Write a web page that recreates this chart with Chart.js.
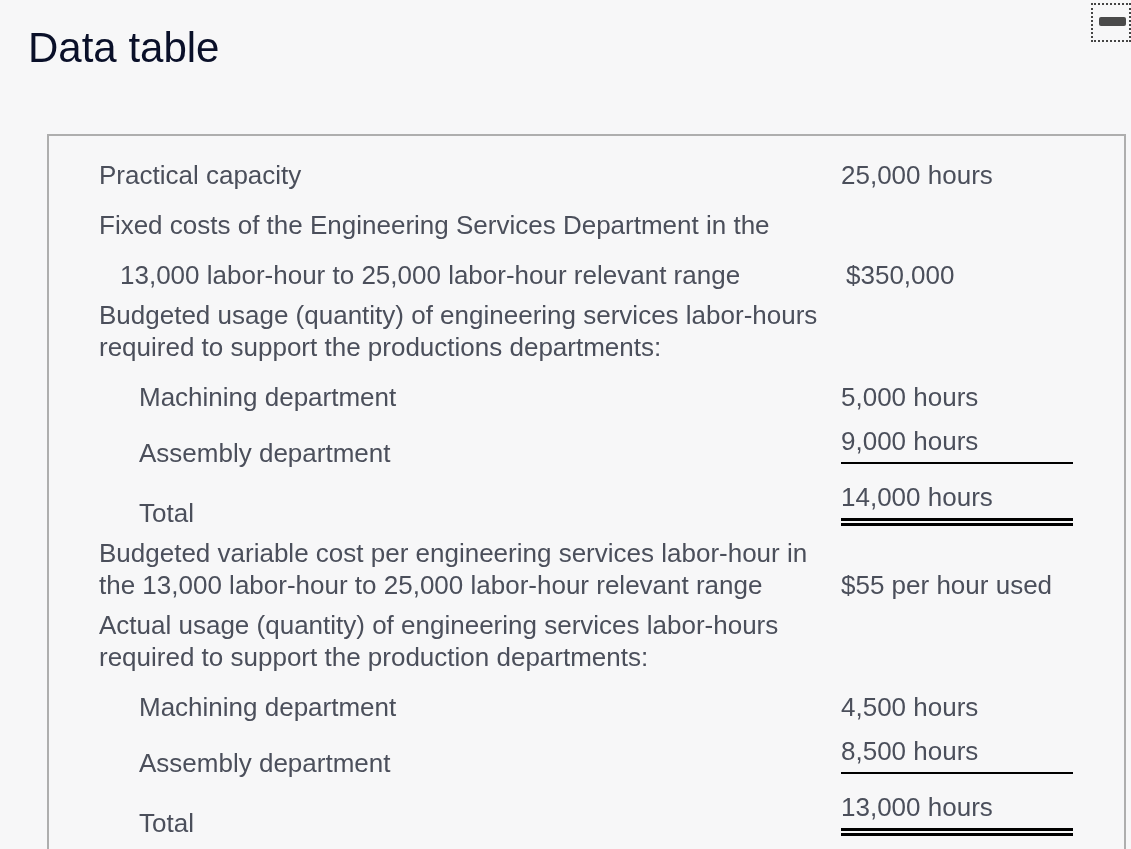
<!DOCTYPE html>
<html>
<head>
<meta charset="utf-8">
<title>Data table</title>
<script src="https://cdn.jsdelivr.net/npm/chart.js@4"></script>
<style>
html, body { margin: 0; padding: 0; background: #f7f7f8; overflow: hidden; }
#wrap { position: relative; width: 1131px; height: 849px; overflow: hidden; }
#frame { position: absolute; left: 47px; top: 134px; width: 1075px; height: 800px; border: 2px solid #aeaeae; }
#toggle { position: absolute; left: 1091px; top: 3px; width: 36px; height: 35px; border: 2px dotted #444; }
#toggle span { position: absolute; left: 6px; top: 12px; width: 27px; height: 9px; border-radius: 2px; background: #4a4a4a; }
canvas { position: absolute; left: 0; top: 0; }
</style>
</head>
<body>
<div id="wrap">
  <div id="frame"></div>
  <div id="toggle"><span></span></div>
  <canvas id="table" width="1131" height="849"></canvas>
</div>
<script>
var titleText = 'Data table';

var rowLabels = [
    'Practical capacity',
    'Fixed costs of the Engineering Services Department in the',
    '13,000 labor-hour to 25,000 labor-hour relevant range',
    'Budgeted usage (quantity) of engineering services labor-hours',
    'required to support the productions departments:',
    'Machining department',
    'Assembly department',
    'Total',
    'Budgeted variable cost per engineering services labor-hour in',
    'the 13,000 labor-hour to 25,000 labor-hour relevant range',
    'Actual usage (quantity) of engineering services labor-hours',
    'required to support the production departments:',
    'Machining department',
    'Assembly department',
    'Total'
];
var valueLabels = [
    '25,000 hours',
    '$350,000',
    '5,000 hours',
    '9,000 hours',
    '14,000 hours',
    '$55 per hour used',
    '4,500 hours',
    '8,500 hours',
    '13,000 hours'
];

// layout, in page units
var rowX = [99, 99, 120, 99, 99, 139, 139, 139, 99, 99, 99, 99, 139, 139, 139];
var rowY = [184, 234, 284, 324, 356, 406, 462, 522, 562, 594, 634, 666, 716, 772, 832];
var valueX = [841, 846, 841, 841, 841, 841, 841, 841, 841];
var valueY = [184, 284, 406, 450, 506, 594, 716, 760, 816];
var singleRules = [463, 773];
var doubleRules = [519.5, 524.5, 829.5, 834.5];
var ruleStart = 841;
var ruleEnd = 1073;

function ruleDataset(y, width) {
    return {
        data: [{x: ruleStart, y: y}, {x: ruleEnd, y: y}],
        borderColor: '#000',
        borderWidth: width,
        pointRadius: 0,
        showLine: true
    };
}

var tableText = {
    id: 'tableText',
    afterDatasetsDraw: function(chart) {
        var ctx = chart.ctx;
        var xs = chart.scales.x;
        var ys = chart.scales.y;
        ctx.save();
        ctx.textBaseline = 'alphabetic';
        ctx.textAlign = 'left';
        ctx.fillStyle = '#0a1029';
        ctx.font = '42px "Liberation Sans"';
        ctx.fillText(titleText, xs.getPixelForValue(28), ys.getPixelForValue(62));
        ctx.fillStyle = '#4b4f5b';
        ctx.font = '26px "Liberation Sans"';
        rowLabels.forEach(function(label, i) {
            ctx.fillText(label, xs.getPixelForValue(rowX[i]), ys.getPixelForValue(rowY[i]));
        });
        valueLabels.forEach(function(label, i) {
            ctx.fillText(label, xs.getPixelForValue(valueX[i]), ys.getPixelForValue(valueY[i]));
        });
        ctx.restore();
    }
};

new Chart(document.getElementById('table').getContext('2d'), {
    type: 'scatter',
    data: {
        datasets: singleRules.map(function(y) { return ruleDataset(y, 2); })
            .concat(doubleRules.map(function(y) { return ruleDataset(y, 3); }))
    },
    options: {
        responsive: false,
        animation: false,
        devicePixelRatio: 1,
        layout: {padding: 0},
        plugins: {legend: {display: false}, tooltip: {enabled: false}, title: {display: false}},
        scales: {
            x: {type: 'linear', display: false, min: 0, max: 1131},
            y: {type: 'linear', display: false, min: 0, max: 849, reverse: true}
        }
    },
    plugins: [tableText]
});
</script>
</body>
</html>
